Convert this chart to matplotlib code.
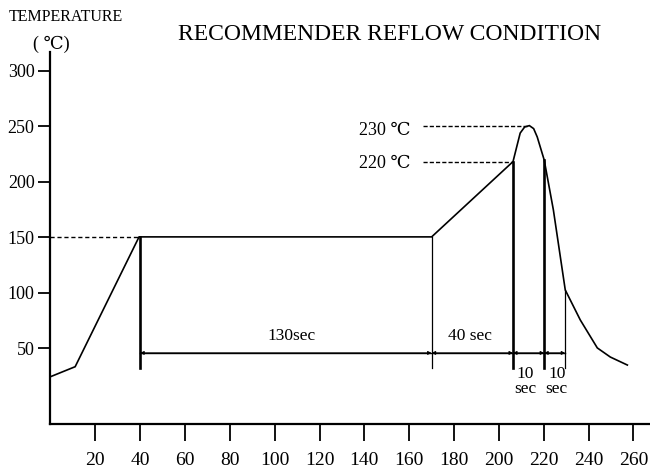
import matplotlib
matplotlib.use("Agg")
import matplotlib.pyplot as plt

# ---- data ----
profile_time = [0, 11, 39.5, 170, 206.3, 208, 209.5, 211.5, 213.6, 215.5, 217.1, 220.2,
                224.3, 229.6, 236.3, 243.9, 249.7, 257.3]
profile_temp = [24.6, 33.6, 150.5, 150.5, 218.3, 232, 244, 249.5, 250.7, 248, 240.5, 219.8,
                174.8, 102.7, 75.7, 50.5, 42.3, 35.1]

xticks = [20, 40, 60, 80, 100, 120, 140, 160, 180, 200, 220, 240, 260]
yticks = [50, 100, 150, 200, 250, 300]

marker_times = [40, 170, 206.3, 220.2, 229.6]
marker_tops = [150.5, 150.5, 218.3, 219.8, 102.7]
marker_widths = [1.9, 0.9, 1.9, 1.9, 0.9]
marker_bottom = 32
dim_level = 46

seg_labels = ["130sec", "40 sec", "10\nsec", "10\nsec"]
seg_label_x = [107.5, 187, 211.8, 225.8]
seg_label_y = [60.8, 60.8, 20.5, 20.5]

peak_label = "230 ℃"
peak_level = 250.7
peak_time = 213.6
upper_label = "220 ℃"
upper_level = 218.3
upper_time = 206.3
guide_start = 166.3
label_right = 160.5

serif = ['Liberation Serif', 'DejaVu Serif', 'DejaVu Sans']
plt.rcParams['font.family'] = serif

fig = plt.figure(figsize=(6.5, 4.7), dpi=100)
ax = fig.add_axes([50.5/650, 46/470, 599.5/650, 372/470])
ax.set_xlim(0, 267.4)
ax.set_ylim(-18, 317)

for s in ['top', 'right']:
    ax.spines[s].set_visible(False)
for s in ['left', 'bottom']:
    ax.spines[s].set_linewidth(1.6)
    ax.spines[s].set_color('black')

# main profile
ax.plot(profile_time, profile_temp, color='black', lw=1.2, solid_joinstyle='miter')

# vertical markers
for t, top, w in zip(marker_times, marker_tops, marker_widths):
    ax.plot([t, t], [marker_bottom, top], color='black', lw=w)

# dimension line with small arrows
ax.plot([marker_times[0], marker_times[-1]], [dim_level, dim_level], color='black', lw=1.0)
for a, b in zip(marker_times[:-1], marker_times[1:]):
    ax.annotate('', xy=(b, dim_level), xytext=(a, dim_level),
                arrowprops=dict(arrowstyle='<|-|>', mutation_scale=5, lw=0.8,
                                color='black', shrinkA=0, shrinkB=0))

# dashed guides
ax.plot([0, 40], [150.5, 150.5], color='black', lw=1.0, dashes=(3, 2))
ax.plot([guide_start, peak_time], [peak_level, peak_level], color='black', lw=1.0, dashes=(3, 1.5))
ax.plot([guide_start, upper_time], [upper_level, upper_level], color='black', lw=1.0, dashes=(3, 1.5))

ax.text(label_right, peak_level - 4, peak_label, ha='right', va='center', fontsize=13)
ax.text(label_right, upper_level - 2, upper_label, ha='right', va='center', fontsize=13)

for lab, x, y in zip(seg_labels, seg_label_x, seg_label_y):
    ax.text(x, y, lab, ha='center', va='center', fontsize=12.5, linespacing=0.95)

ax.set_xticks(xticks)
ax.set_xticklabels([str(v) for v in xticks])
ax.set_yticks(yticks)
ax.set_yticklabels([str(v) for v in yticks])
ax.tick_params(axis='x', direction='out', length=12, width=1.3, pad=8, labelsize=14)
ax.tick_params(axis='y', direction='out', length=8.5, width=1.3, pad=3, labelsize=13)

fig.text(390/650, 1 - 35/470, "RECOMMENDER REFLOW CONDITION", ha='center', va='center', fontsize=17)
fig.text(66/650, 1 - 17/470, "TEMPERATURE", ha='center', va='center', fontsize=11.5)
fig.text(51/650, 1 - 44/470, "( ℃)", ha='center', va='center', fontsize=13)

fig.savefig("out.png", dpi=100)
